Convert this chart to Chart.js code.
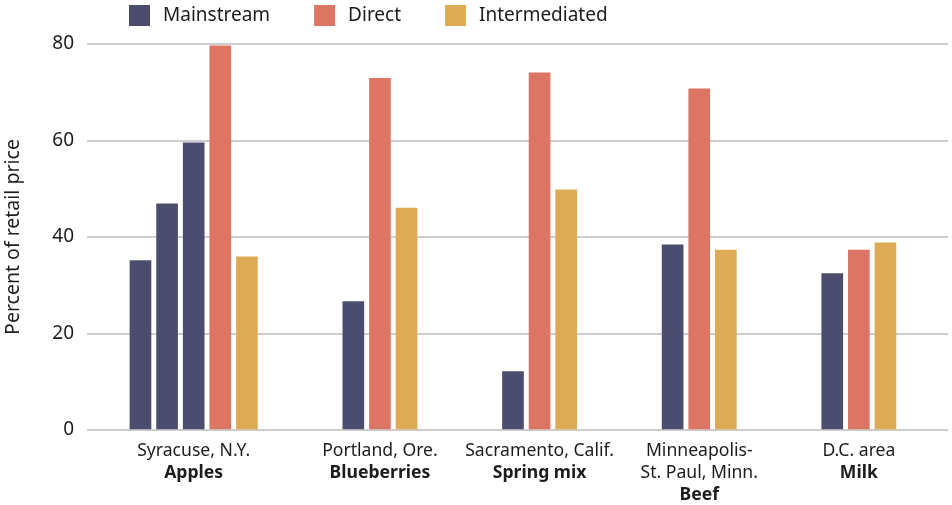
<!DOCTYPE html>
<html>
<head>
<meta charset="utf-8">
<script src="https://cdn.jsdelivr.net/npm/chart.js@4"></script>
<style>
  html, body { margin: 0; background: #fff; }
  #wrap { width: 952px; height: 505px; position: relative; }
</style>
</head>
<body>
<div id="wrap"><canvas id="retail-share-chart"></canvas></div>
<script>
// product and market for each group of bars
const products = ["Apples", "Blueberries", "Spring mix", "Beef", "Milk"];
const places = [
  ["Syracuse, N.Y."],
  ["Portland, Ore."],
  ["Sacramento, Calif."],
  ["Minneapolis-", "St. Paul, Minn."],
  ["D.C. area"],
];

// farmer share of the retail price, percent (apples has three mainstream outlets)
const mainstream = [[35.1, 46.9, 59.5], [26.6], [12.1], [38.4], [32.4]];
const direct = [79.6, 72.9, 74.0, 70.7, 37.3];
const intermediated = [35.9, 46.0, 49.8, 37.3, 38.8];

const yTicks = [0, 20, 40, 60, 80];

const colors = {
  mainstream: "#4c4d6e",
  direct: "#dc7563",
  intermediated: "#ddab56",
};
const textColor = "#1c1c1c";
const fontFamily = "'Noto Sans', 'Liberation Sans', sans-serif";

// lay the bars out in slots, leaving empty slots between products
const EMPTY_SLOTS = 3;
const mainstreamPts = [];
const directPts = [];
const intermediatedPts = [];
const groupCenters = [];
let slot = 0;
products.forEach((p, i) => {
  const first = slot;
  mainstream[i].forEach((v) => mainstreamPts.push({ x: slot++, y: v }));
  directPts.push({ x: slot++, y: direct[i] });
  intermediatedPts.push({ x: slot++, y: intermediated[i] });
  groupCenters.push((first + slot - 1) / 2);
  slot += EMPTY_SLOTS;
});
const lastSlot = slot - EMPTY_SLOTS - 1;

// legend row along the top
const legendRow = {
  id: "legendRow",
  afterDraw(chart) {
    const ctx = chart.ctx;
    ctx.save();
    ctx.font = "19px " + fontFamily;
    ctx.textBaseline = "middle";
    ctx.textAlign = "left";
    let x = 129;
    const y = 15.5;
    chart.data.datasets.forEach((ds) => {
      ctx.fillStyle = ds.backgroundColor;
      ctx.fillRect(x, y - 10.5, 21, 21);
      x += 21 + 13;
      ctx.fillStyle = textColor;
      ctx.fillText(ds.label, x, y);
      x += ctx.measureText(ds.label).width + 44;
    });
    ctx.restore();
  },
};

// market name + bold product under each group
const groupLabels = {
  id: "groupLabels",
  afterDraw(chart) {
    const xScale = chart.scales.x;
    const ctx = chart.ctx;
    ctx.save();
    ctx.textAlign = "center";
    ctx.textBaseline = "middle";
    ctx.fillStyle = textColor;
    groupCenters.forEach((c, i) => {
      const x = xScale.getPixelForValue(c);
      let y = chart.chartArea.bottom + 20.5;
      ctx.font = "17.6px " + fontFamily;
      places[i].forEach((line) => {
        ctx.fillText(line, x, y);
        y += 22;
      });
      ctx.font = "bold 17.6px " + fontFamily;
      ctx.fillText(products[i], x, y);
    });
    ctx.restore();
  },
};

const barStyle = {
  stack: "slot",
  barThickness: 21,
  borderWidth: 0,
};

new Chart(document.getElementById("retail-share-chart"), {
  type: "bar",
  data: {
    datasets: [
      { label: "Mainstream", data: mainstreamPts, backgroundColor: colors.mainstream, ...barStyle },
      { label: "Direct", data: directPts, backgroundColor: colors.direct, ...barStyle },
      { label: "Intermediated", data: intermediatedPts, backgroundColor: colors.intermediated, ...barStyle },
    ],
  },
  options: {
    responsive: true,
    maintainAspectRatio: false,
    animation: false,
    layout: { padding: { top: 44, right: 4, left: 0, bottom: 0 } },
    plugins: {
      legend: { display: false },
      tooltip: { enabled: true },
    },
    scales: {
      x: {
        type: "linear",
        offset: false,
        min: -2.01,
        max: lastSlot + 2.35,
        grid: { display: false },
        border: { display: false },
        ticks: { display: false, stepSize: 1, includeBounds: false },
        afterFit(scale) {
          scale.height = 75;
        },
      },
      y: {
        stacked: true,
        min: yTicks[0],
        max: yTicks[yTicks.length - 1],
        afterBuildTicks(scale) {
          scale.ticks = yTicks.map((v) => ({ value: v }));
        },
        ticks: {
          color: textColor,
          padding: 13,
          font: { family: fontFamily, size: 19 },
        },
        grid: { color: "#cdcdcd", lineWidth: 2, drawTicks: false },
        border: { display: false },
        title: {
          display: true,
          text: "Percent of retail price",
          color: textColor,
          font: { family: fontFamily, size: 19.5 },
          padding: { top: 2, bottom: 0 },
        },
        afterFit(scale) {
          scale.width = 87;
        },
      },
    },
  },
  plugins: [legendRow, groupLabels],
});
</script>
</body>
</html>
